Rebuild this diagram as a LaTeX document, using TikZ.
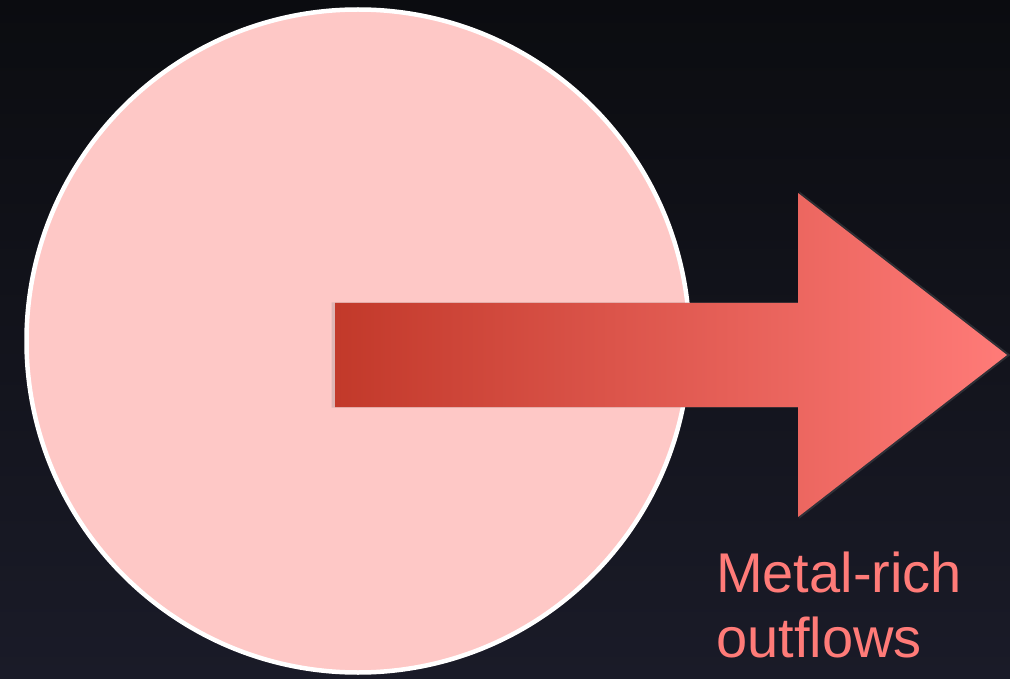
\documentclass[tikz,border=0pt]{standalone}
\usepackage{fontspec}
\setmainfont{Liberation Sans}
\usepackage{tikz}
\usetikzlibrary{shadows}
\definecolor{skytop}{HTML}{0B0C10}
\definecolor{skybottom}{HTML}{1A1B28}
\definecolor{diskpink}{HTML}{FEC8C6}
\definecolor{flowdark}{HTML}{C2392A}
\definecolor{flowlight}{HTML}{FF7B78}
\begin{document}
\begin{tikzpicture}[x=1pt,y=-1pt]
\useasboundingbox (0,0) rectangle (1010,679);
% objects at depth 100:
\path[top color=skytop, bottom color=skybottom] (0,0) rectangle (1010,679);
% objects at depth 75:
\node (disk) [circle, inner sep=0pt, minimum size=663pt, fill=diskpink,
  draw=white, line width=4.5pt] at (358,341) {};
% objects at depth 50:
\path[drop shadow={opacity=0.25, shadow xshift=0pt, shadow yshift=0pt, shadow scale=1.01},
  left color=flowdark, right color=flowlight]
  (335,303) -- (798,303) -- (798,193) -- (1007,355) -- (798,517)
  -- (798,407) -- (335,407) -- cycle;
\node (label) [anchor=north west, inner sep=0pt, align=left, text=flowlight,
  font=\fontsize{56}{65}\selectfont] at (716,552) {Metal-rich\\outflows};
\end{tikzpicture}
\end{document}
